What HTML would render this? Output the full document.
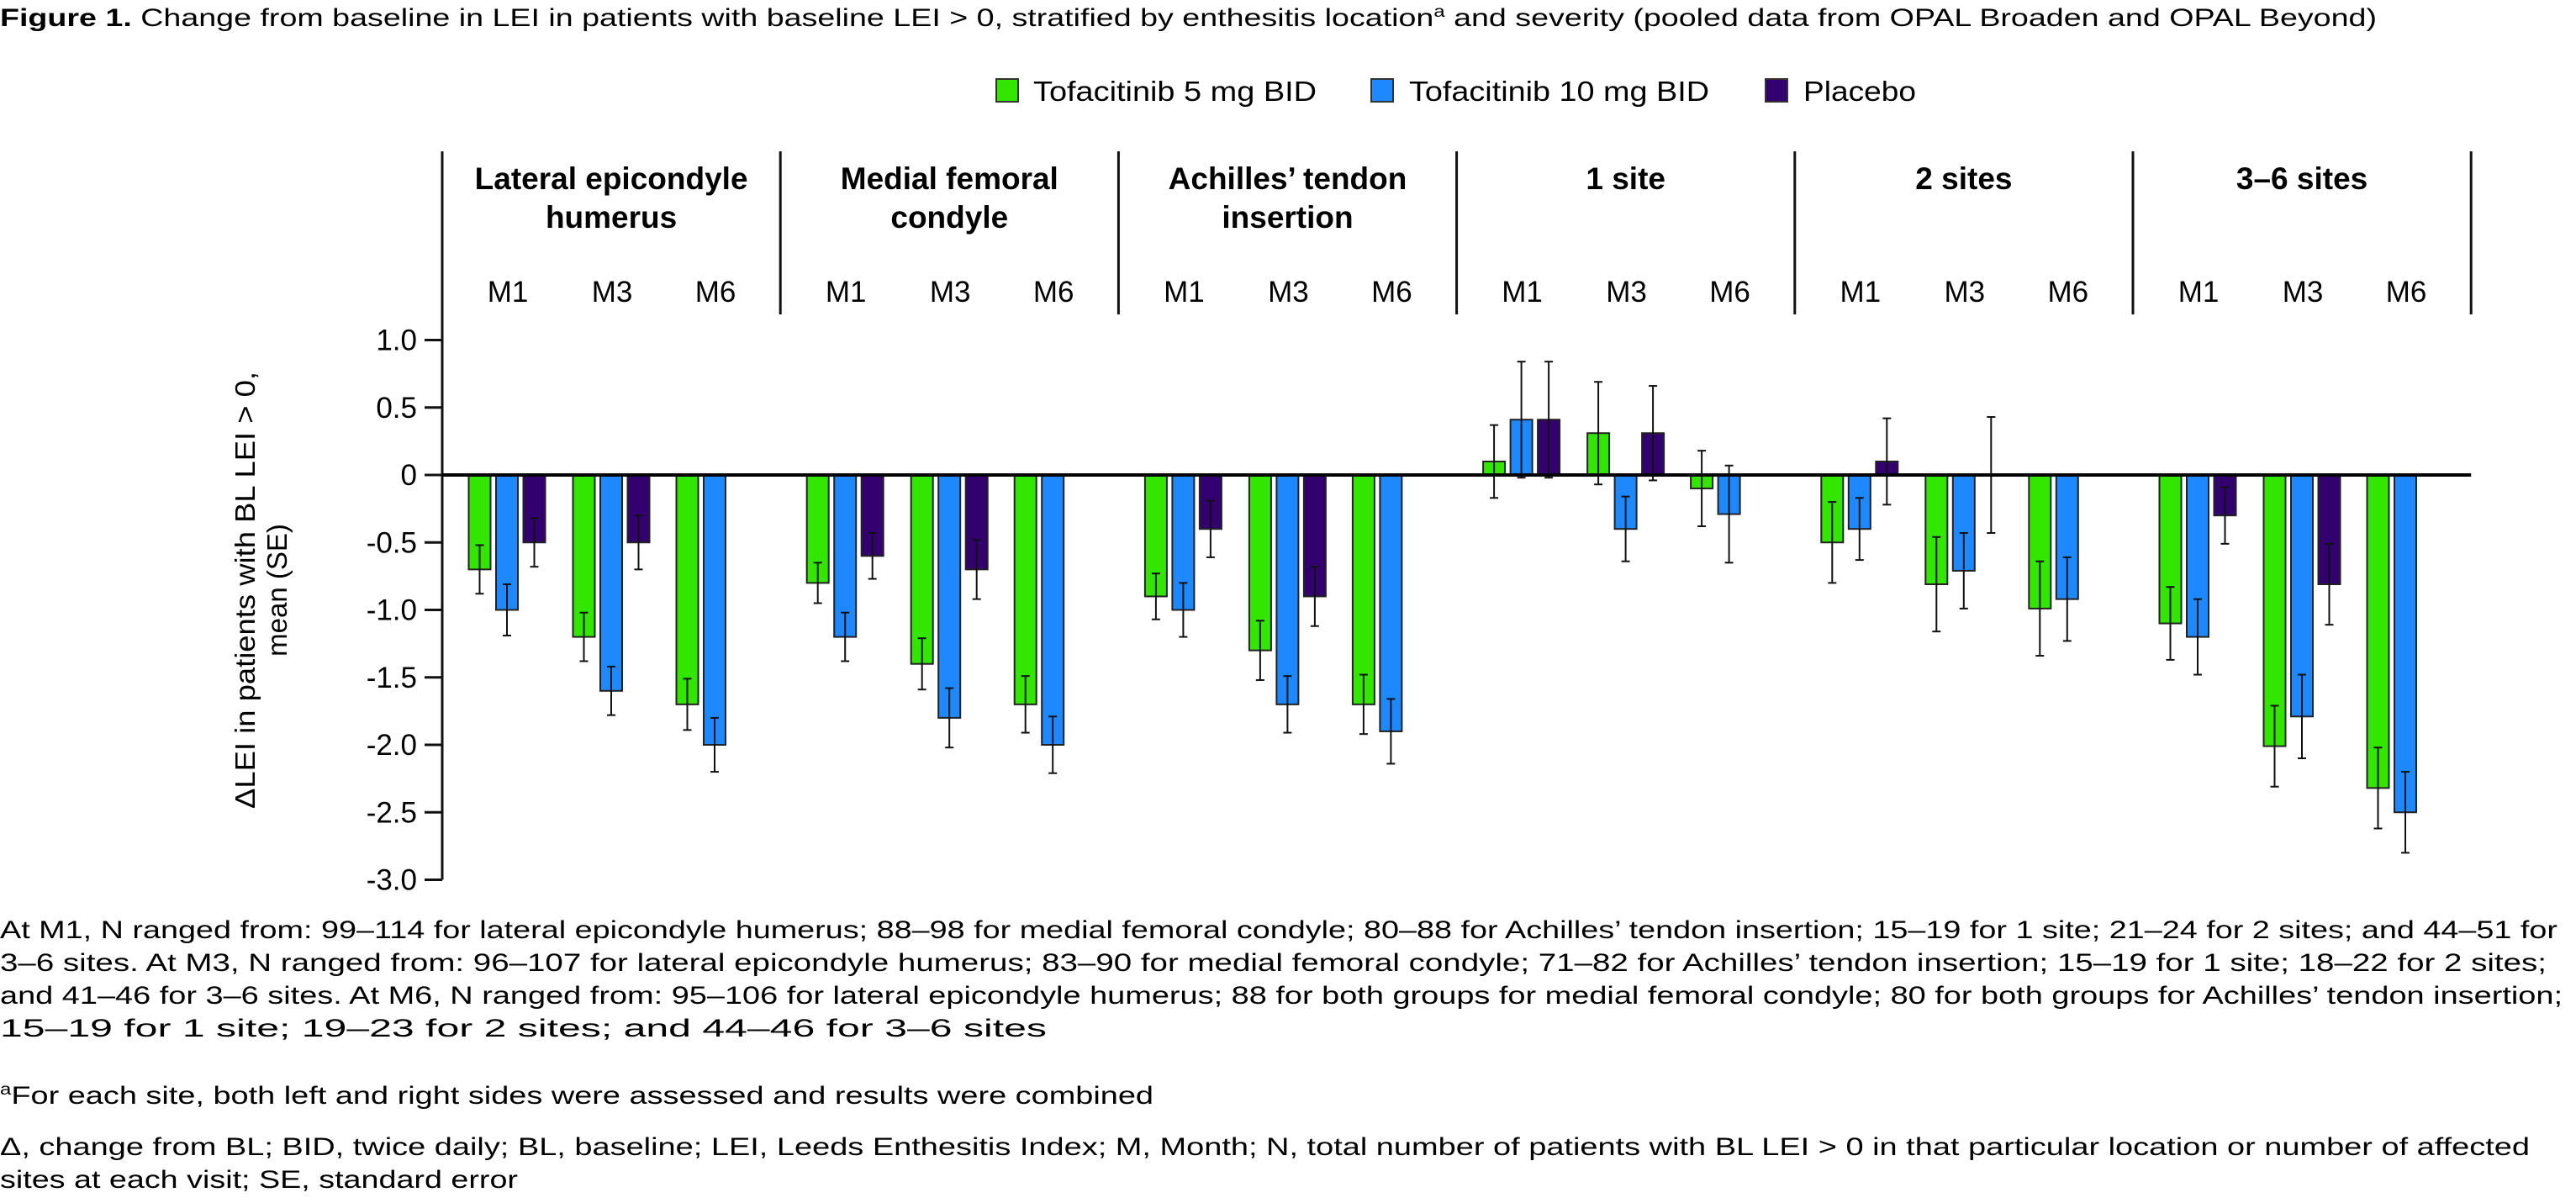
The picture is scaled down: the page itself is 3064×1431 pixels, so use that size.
<!DOCTYPE html>
<html><head><meta charset="utf-8"><style>
html,body{margin:0;padding:0;background:#fff;}
svg{display:block;font-family:"Liberation Sans",Arial,sans-serif;}
</style></head><body>
<svg id="chart" width="3064" height="1431" viewBox="0 0 3064 1431" xmlns="http://www.w3.org/2000/svg">
<text x="0" y="31" font-size="30" textLength="2827" lengthAdjust="spacingAndGlyphs"><tspan font-weight="bold">Figure 1.</tspan> Change from baseline in LEI in patients with baseline LEI &gt; 0, stratified by enthesitis location<tspan font-size="19" dy="-11">a</tspan><tspan dy="11"> and severity (pooled data from OPAL Broaden and OPAL Beyond)</tspan></text>
<g font-size="33">
 <g><rect x="1185" y="94" width="26" height="27" fill="#33e600" stroke="#333" stroke-width="2"/><text x="1229" y="120" textLength="337" lengthAdjust="spacingAndGlyphs">Tofacitinib 5 mg BID</text></g>
 <g><rect x="1631" y="94" width="26" height="27" fill="#1e88ff" stroke="#333" stroke-width="2"/><text x="1676" y="120" textLength="357" lengthAdjust="spacingAndGlyphs">Tofacitinib 10 mg BID</text></g>
 <g><rect x="2100" y="94" width="26" height="27" fill="#330070" stroke="#333" stroke-width="2"/><text x="2145" y="120" textLength="134" lengthAdjust="spacingAndGlyphs">Placebo</text></g>
</g>
<g id="header"></g>
<g id="axis"></g>
<g id="bars"></g>
<g font-size="33" text-anchor="middle">
 <text transform="translate(303,702) rotate(-90)" textLength="520" lengthAdjust="spacingAndGlyphs">ΔLEI in patients with BL LEI &gt; 0,</text>
 <text transform="translate(341,702) rotate(-90)">mean (SE)</text>
</g>
<g font-size="30">
 <text x="0" y="1116" textLength="3042" lengthAdjust="spacingAndGlyphs">At M1, N ranged from: 99–114 for lateral epicondyle humerus; 88–98 for medial femoral condyle; 80–88 for Achilles’ tendon insertion; 15–19 for 1 site; 21–24 for 2 sites; and 44–51 for</text>
 <text x="0" y="1155" textLength="3029" lengthAdjust="spacingAndGlyphs">3–6 sites. At M3, N ranged from: 96–107 for lateral epicondyle humerus; 83–90 for medial femoral condyle; 71–82 for Achilles’ tendon insertion; 15–19 for 1 site; 18–22 for 2 sites;</text>
 <text x="0" y="1194" textLength="3048" lengthAdjust="spacingAndGlyphs">and 41–46 for 3–6 sites. At M6, N ranged from: 95–106 for lateral epicondyle humerus; 88 for both groups for medial femoral condyle; 80 for both groups for Achilles’ tendon insertion;</text>
 <text x="0" y="1233" textLength="1245" lengthAdjust="spacingAndGlyphs">15–19 for 1 site; 19–23 for 2 sites; and 44–46 for 3–6 sites</text>
 <text x="0" y="1313" textLength="1372" lengthAdjust="spacingAndGlyphs"><tspan font-size="19" dy="-11">a</tspan><tspan dy="11">For each site, both left and right sides were assessed and results were combined</tspan></text>
 <text x="0" y="1374" textLength="3009" lengthAdjust="spacingAndGlyphs">Δ, change from BL; BID, twice daily; BL, baseline; LEI, Leeds Enthesitis Index; M, Month; N, total number of patients with BL LEI &gt; 0 in that particular location or number of affected</text>
 <text x="0" y="1413" textLength="616" lengthAdjust="spacingAndGlyphs">sites at each visit; SE, standard error</text>
</g>
</svg>
<script>
const groups = [["Lateral epicondyle","humerus"],["Medial femoral","condyle"],["Achilles’ tendon","insertion"],["1 site"],["2 sites"],["3–6 sites"]];
const months = ["M1","M3","M6"];
const yTicks = [1.0,0.5,0,-0.5,-1.0,-1.5,-2.0,-2.5,-3.0];
const yTickLabels = ["1.0","0.5","0","-0.5","-1.0","-1.5","-2.0","-2.5","-3.0"];
const tofa5 = [[-0.7,-1.2,-1.7],[-0.8,-1.4,-1.7],[-0.9,-1.3,-1.7],[0.1,0.31,-0.1],[-0.5,-0.81,-0.99],[-1.1,-2.01,-2.32]];
const tofa5SE = [[0.18,0.18,0.19],[0.15,0.19,0.21],[0.17,0.22,0.22],[0.27,0.38,0.28],[0.3,0.35,0.35],[0.27,0.3,0.3]];
const tofa10 = [[-1.0,-1.6,-2.0],[-1.2,-1.8,-2.0],[-1.0,-1.7,-1.9],[0.41,-0.4,-0.29],[-0.4,-0.71,-0.92],[-1.2,-1.79,-2.5]];
const tofa10SE = [[0.19,0.18,0.2],[0.18,0.22,0.21],[0.2,0.21,0.24],[0.43,0.24,0.36],[0.23,0.28,0.31],[0.28,0.31,0.3]];
const placebo = [[-0.5,-0.5,null],[-0.6,-0.7,null],[-0.4,-0.9,null],[0.41,0.31,null],[0.1,0,null],[-0.3,-0.81,null]];
const placeboSE = [[0.18,0.2,null],[0.17,0.22,null],[0.21,0.22,null],[0.43,0.35,null],[0.32,0.43,null],[0.21,0.3,null]];

const NS="http://www.w3.org/2000/svg";
const AX=526, ZERO=565, UNIT=160.5, GW=402.2, TOP=180;
const MOFF=[78,202,325];
function y(v){return ZERO - v*UNIT;}
function gx(g){return AX + g*GW;}
function mk(tag,attrs,parent){const e=document.createElementNS(NS,tag);for(const k in attrs)e.setAttribute(k,attrs[k]);parent.appendChild(e);return e;}
const header=document.getElementById('header'), axis=document.getElementById('axis'), bars=document.getElementById('bars');

for(let g=0;g<=groups.length;g++){
  const l=mk('line',{x1:gx(g),x2:gx(g),y1:TOP,y2:g===0?y(-3.0):374,stroke:'#111','stroke-width':3},g===0?axis:header);
  
  
}
groups.forEach((lines,g)=>{
  const cx=gx(g)+GW/2;
  lines.forEach((t,i)=>{
    const e=mk('text',{x:cx,y:225+46*i,'font-size':37,'font-weight':'bold','text-anchor':'middle'},header);
    e.textContent=t;
    
    
  });
  months.forEach((m,mi)=>{
    const e=mk('text',{x:gx(g)+MOFF[mi],y:359,'font-size':35,'text-anchor':'middle'},header);
    e.textContent=m;
    
    
  });
});
yTicks.forEach((v,i)=>{
  const t=mk('line',{x1:AX-21,x2:AX,y1:y(v),y2:y(v),stroke:'#111','stroke-width':3},axis);
  
  
  const e=mk('text',{x:AX-30,y:y(v)+12,'font-size':35,'text-anchor':'end'},axis);
  e.textContent=yTickLabels[i];
  
  
});
const series=[[tofa5,tofa5SE,'#33e600',-32.5,'tofa5'],[tofa10,tofa10SE,'#1e88ff',0,'tofa10'],[placebo,placeboSE,'#330070',32.5,'placebo']];
series.forEach(([vals,ses,col,off,nm])=>{
  vals.forEach((row,g)=>{
    row.forEach((v,mi)=>{
      if(v===null)return;
      const cx=gx(g)+MOFF[mi]+off-1;
      const y0=y(0), y1=y(v);
      if(v!==0){
        const r=mk('rect',{x:cx-13,y:Math.min(y0,y1),width:26,height:Math.abs(y1-y0),fill:col,stroke:'#222','stroke-width':2},bars);
        
        
      }
      const se=ses[g][mi];
      const eg=mk('g',{stroke:'#111','stroke-width':2},bars);
      
      
      mk('line',{x1:cx,x2:cx,y1:y(v+se),y2:y(v-se)},eg);
      mk('line',{x1:cx-5,x2:cx+5,y1:y(v+se),y2:y(v+se)},eg);
      mk('line',{x1:cx-5,x2:cx+5,y1:y(v-se),y2:y(v-se)},eg);
    });
  });
});
const z=mk('line',{x1:AX,x2:gx(groups.length),y1:ZERO,y2:ZERO,stroke:'#000','stroke-width':4},bars);


</script>
</body></html>
